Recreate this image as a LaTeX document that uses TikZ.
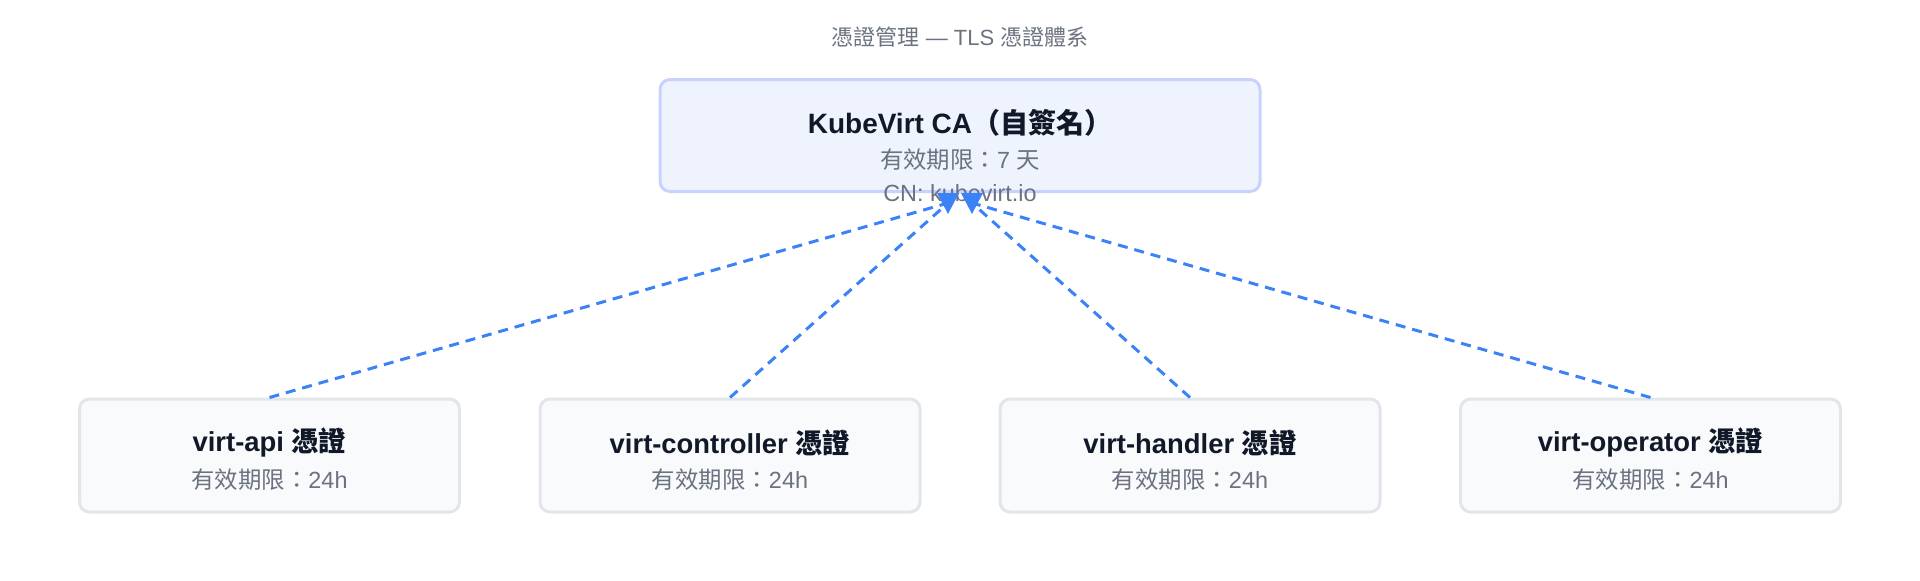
\documentclass[tikz,border=0pt]{standalone}
\usepackage{fontspec}
\setmainfont{Liberation Sans}
\newfontfamily\cjk{Noto Sans CJK TC}
\usetikzlibrary{positioning}
\definecolor{cablue}{HTML}{EEF3FE}
\definecolor{caedge}{HTML}{C7D2FE}
\definecolor{leafbg}{HTML}{F8FAFC}
\definecolor{leafedge}{HTML}{E2E5EA}
\definecolor{inkdark}{HTML}{111827}
\definecolor{inkgray}{HTML}{6B7280}
\definecolor{linkblue}{HTML}{3B82F6}
\tikzset{
  cabox/.style={draw=caedge,fill=cablue,line width=1.5pt,rounded corners=5pt,
    minimum width=300pt,minimum height=56pt},
  leafbox/.style={draw=leafedge,fill=leafbg,line width=1.5pt,rounded corners=5pt,
    minimum width=190pt,minimum height=56.5pt},
  headtxt/.style={font=\bfseries\fontsize{13.7}{16}\selectfont,text=inkdark,inner sep=0pt},
  subtxt/.style={font=\fontsize{11.7}{14}\selectfont,text=inkgray,inner sep=0pt},
  signlink/.style={draw=linkblue,line width=1.5pt,dash pattern=on 5pt off 3.5pt},
}
% downward marker under the CA box
\newcommand{\catip}[1]{%
  \fill[linkblue] (#1-11,193) -- (#1+11,193) -- (#1,214) -- cycle;
}

\begin{document}
\begin{tikzpicture}[x=0.5pt,y=-0.5pt]
  \useasboundingbox (0,0) rectangle (1920,580);
  \node[font=\fontsize{11}{13}\selectfont,text=inkgray,inner sep=0pt] (title) at (960,37)
    {{\cjk 憑證管理} — TLS {\cjk 憑證體系}};

  % CA
  \node[cabox] (ca) at (960,135.5) {};
  \node[headtxt,font=\bfseries\fontsize{14}{16}\selectfont] (cahead) at (960,123)
    {KubeVirt CA{\cjk\bfseries （自簽名）}};
  \node[subtxt] (cattl) at (960,160) {{\cjk 有效期限：}7 {\cjk 天}};
  \node[subtxt] (cacn) at (960,193) {CN: kubevirt.io};

  % leaf certificates
  \node[leafbox] (api) at (269.5,455.5) {};
  \node[leafbox] (ctrl) at (730,455.5) {};
  \node[leafbox] (hdlr) at (1190,455.5) {};
  \node[leafbox] (oper) at (1650.5,455.5) {};
  \foreach \leaf/\name in {api/virt-api,ctrl/virt-controller,hdlr/virt-handler,oper/virt-operator}{
    \node[headtxt] (\leaf head) at ([yshift=6.5pt]\leaf.center) {\name\ {\cjk\bfseries 憑證}};
    \node[subtxt] (\leaf ttl) at ([yshift=-12pt]\leaf.center) {{\cjk 有效期限：}24h};
  }

  \coordinate (tipL) at (948,203);
  \coordinate (tipR) at (972,203);
  \draw[signlink] (api.north) -- (tipL);
  \draw[signlink] (ctrl.north) -- (tipL);
  \draw[signlink] (hdlr.north) -- (tipR);
  \draw[signlink] (oper.north) -- (tipR);
  \catip{948}
  \catip{972}
\end{tikzpicture}
\end{document}
